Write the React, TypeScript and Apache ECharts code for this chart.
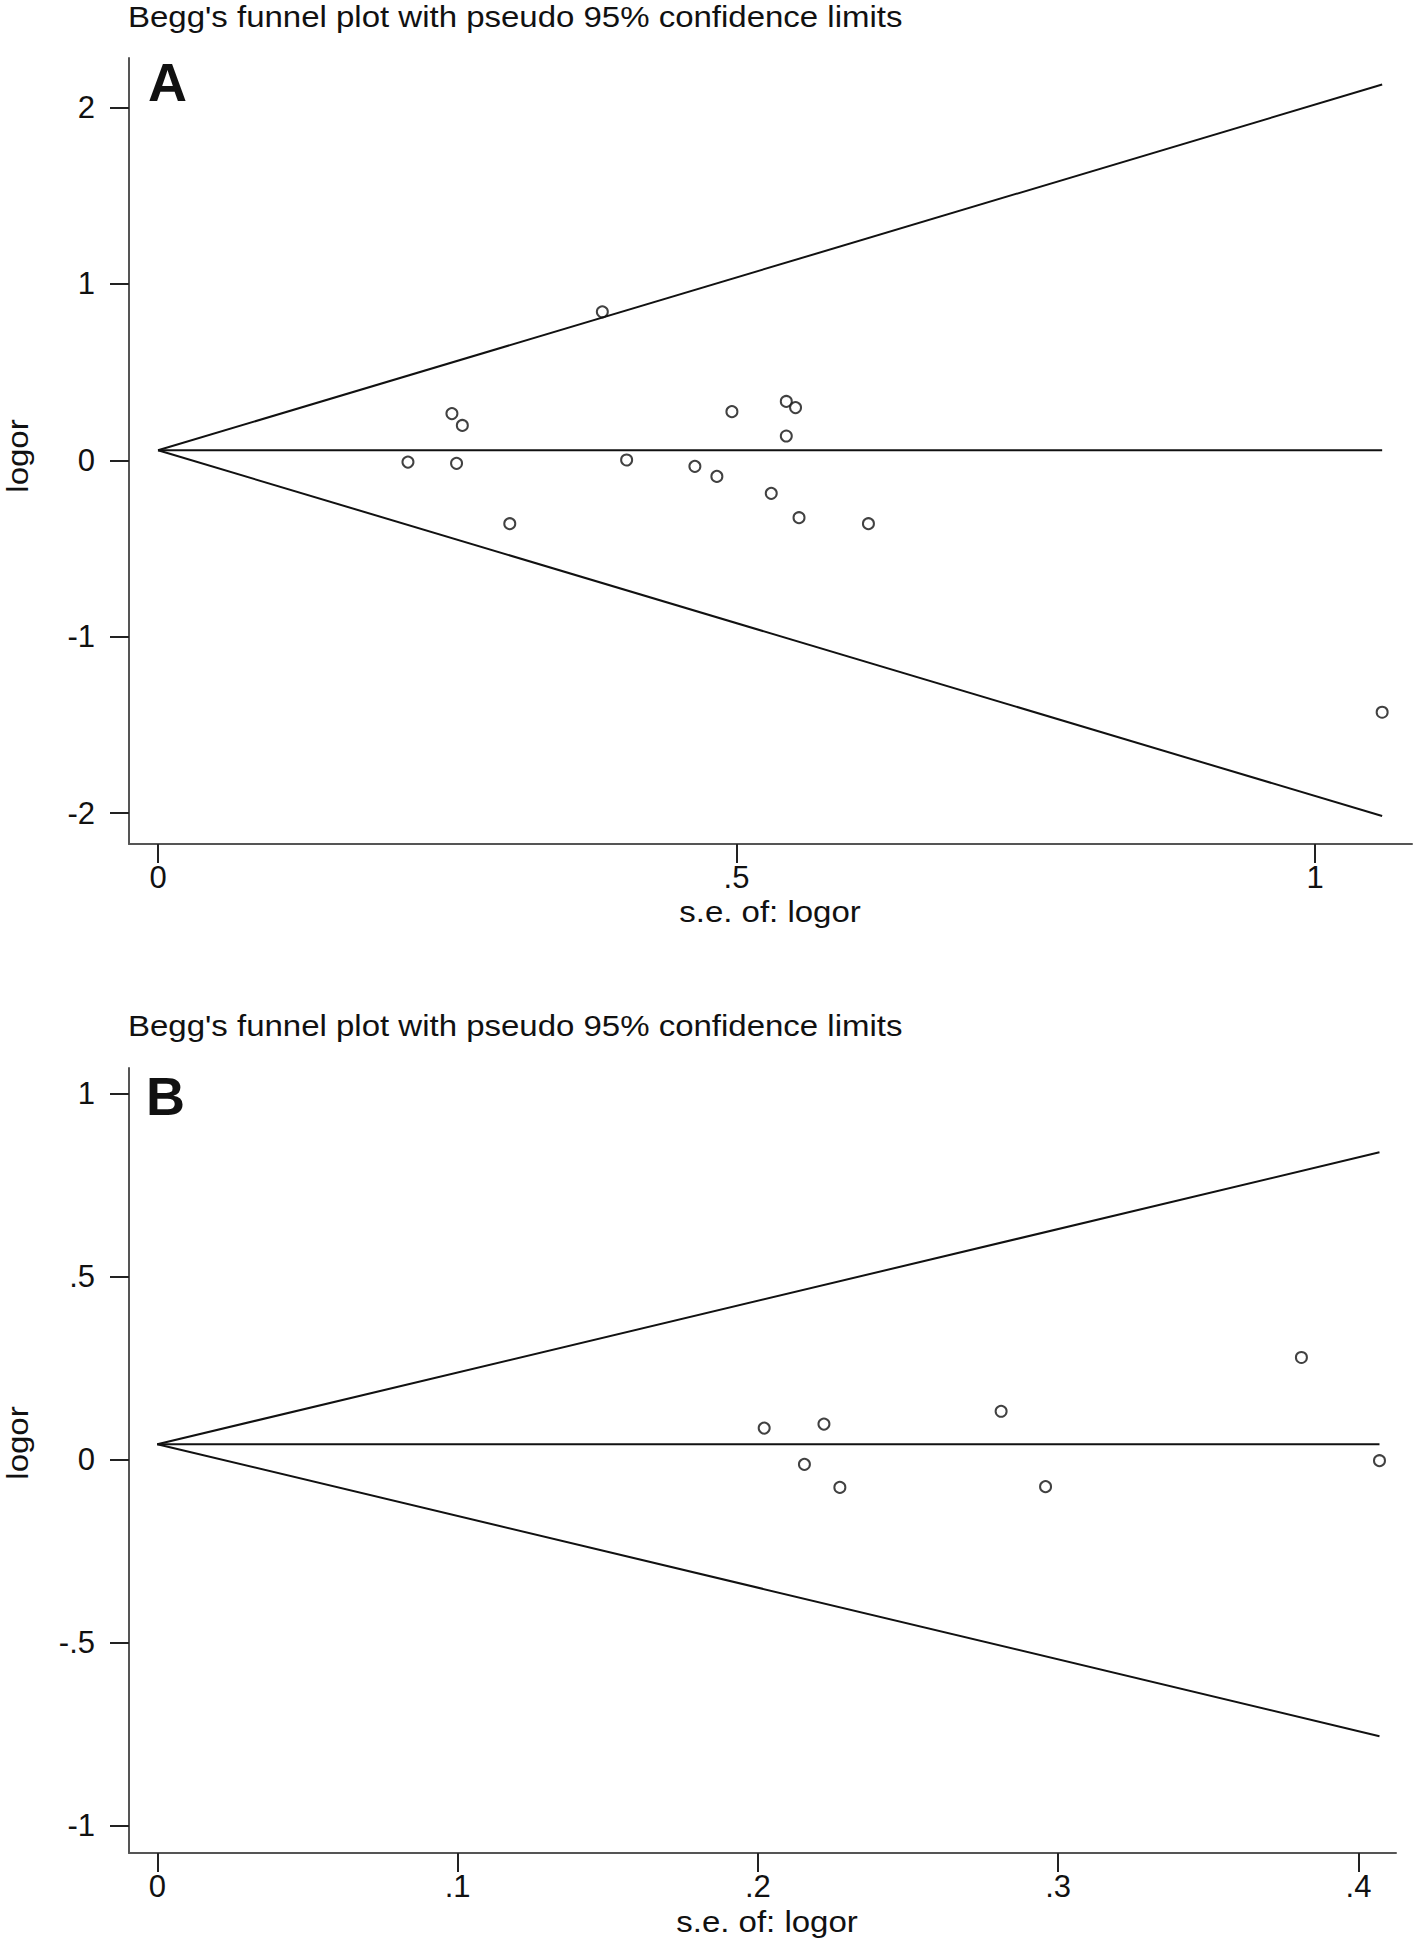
import React, { useEffect, useRef } from "react";
import * as echarts from "echarts";

// Panel A data
const seA = [0.216, 0.254, 0.258, 0.263, 0.304, 0.384, 0.405, 0.464, 0.483, 0.496, 0.53, 0.543, 0.543, 0.551, 0.554, 0.614, 1.058];
const logorA = [-0.01, 0.265, -0.017, 0.198, -0.359, 0.842, 0.002, -0.034, -0.091, 0.276, -0.187, 0.334, 0.138, 0.299, -0.325, -0.359, -1.428];
const pooledA = 0.057;
const xTicksA = [0, 0.5, 1];
const yTicksA = [-2, -1, 0, 1, 2];

// Panel B data
const seB = [0.2021, 0.2155, 0.222, 0.2273, 0.281, 0.2958, 0.381, 0.407];
const logorB = [0.087, -0.012, 0.098, -0.075, 0.133, -0.073, 0.28, -0.002];
const pooledB = 0.043;
const xTicksB = [0, 0.1, 0.2, 0.3, 0.4];
const yTicksB = [-1, -0.5, 0, 0.5, 1];

const titleText = "Begg's funnel plot with pseudo 95% confidence limits";
const xTitle = "s.e. of: logor";
const yTitle = "logor";
const panelLabels = ["A", "B"];

const FONT = "'Liberation Sans', Arial, Helvetica, sans-serif";
const INK = "#111";
const AXIS = "#555";

const fmt = (v: number) => {
  const s = String(Math.round(v * 1000) / 1000);
  return s.replace(/^(-?)0\./, "$1.");
};

function funnel(se: number[], b: number, xi: number, yi: number) {
  const m = Math.max(...se);
  const base = {
    type: "line",
    xAxisIndex: xi,
    yAxisIndex: yi,
    symbol: "none",
    silent: true,
    lineStyle: { color: INK, width: 2 },
  };
  return [
    { ...base, data: [[0, b], [m, b + 1.96 * m]] },
    { ...base, data: [[0, b], [m, b - 1.96 * m]] },
    { ...base, data: [[0, b], [m, b]] },
  ];
}

function xAxisCfg(grid: number, min: number, max: number, ticks: number[]) {
  return {
    type: "value",
    gridIndex: grid,
    min,
    max,
    splitLine: { show: false },
    axisLine: { show: true, onZero: false, lineStyle: { color: AXIS, width: 2 } },
    axisTick: { show: true, inside: false, length: 19, customValues: ticks, lineStyle: { color: "#222", width: 2 } },
    axisLabel: { customValues: ticks, formatter: fmt, margin: 18, fontSize: 31, color: INK, fontFamily: FONT },
  };
}

function yAxisCfg(grid: number, min: number, max: number, ticks: number[]) {
  return {
    type: "value",
    gridIndex: grid,
    min,
    max,
    splitLine: { show: false },
    axisLine: { show: true, onZero: false, lineStyle: { color: AXIS, width: 2 } },
    axisTick: { show: true, inside: false, length: 19, customValues: ticks, lineStyle: { color: "#222", width: 2 } },
    axisLabel: { customValues: ticks, formatter: fmt, margin: 34, fontSize: 31, color: INK, fontFamily: FONT },
  };
}

function textEl(text: string, x: number, y: number, size: number, extra: any = {}) {
  const { bold, align, ...rest } = extra;
  return {
    type: "text",
    x,
    y,
    ...rest,
    style: {
      text,
      fill: INK,
      font: `${bold ? "bold " : ""}${size}px ${FONT}`,
      align: align || "left",
      verticalAlign: "middle",
    },
  };
}

export default function App() {
  const ref = useRef<HTMLDivElement>(null);
  useEffect(() => {
    if (!ref.current) return;
    const chart = echarts.init(ref.current, null, { renderer: "svg" });
    const scatterStyle = { color: "#fff", borderColor: INK, borderWidth: 2 };
    chart.setOption({
      animation: false,
      backgroundColor: "#fff",
      grid: [
        { left: 129, top: 58, width: 1283, height: 786 },
        { left: 129, top: 1068, width: 1267, height: 785 },
      ],
      xAxis: [
        xAxisCfg(0, -0.0251, 1.0838, xTicksA),
        xAxisCfg(1, -0.00942, 0.4125, xTicksB),
      ],
      yAxis: [
        yAxisCfg(0, -2.175, 2.281, yTicksA),
        yAxisCfg(1, -1.074, 1.071, yTicksB),
      ],
      series: [
        ...funnel(seA, pooledA, 0, 0),
        ...funnel(seB, pooledB, 1, 1),
        {
          type: "scatter",
          xAxisIndex: 0,
          yAxisIndex: 0,
          symbol: "circle",
          symbolSize: 11,
          itemStyle: scatterStyle,
          data: seA.map((s, i) => [s, logorA[i]]),
        },
        {
          type: "scatter",
          xAxisIndex: 1,
          yAxisIndex: 1,
          symbol: "circle",
          symbolSize: 11,
          itemStyle: scatterStyle,
          data: seB.map((s, i) => [s, logorB[i]]),
        },
      ],
      graphic: [
        textEl(titleText, 128, 17, 30, { scaleX: 1.1 }),
        textEl(titleText, 128, 1026, 30, { scaleX: 1.1 }),
        textEl(panelLabels[0], 148, 82, 54, { bold: true }),
        textEl(panelLabels[1], 146, 1096, 54, { bold: true }),
        textEl(xTitle, 770, 912, 30, { align: "center", scaleX: 1.1 }),
        textEl(xTitle, 767, 1922, 30, { align: "center", scaleX: 1.1 }),
        textEl(yTitle, 18, 456, 30, { align: "center", rotation: Math.PI / 2, scaleX: 1.1 }),
        textEl(yTitle, 18, 1443, 30, { align: "center", rotation: Math.PI / 2, scaleX: 1.1 }),
      ],
    });
    return () => chart.dispose();
  }, []);
  return (
    <div
      ref={ref}
      style={{ position: "absolute", left: 0, top: 0, width: 1418, height: 1942, background: "#fff" }}
    />
  );
}
